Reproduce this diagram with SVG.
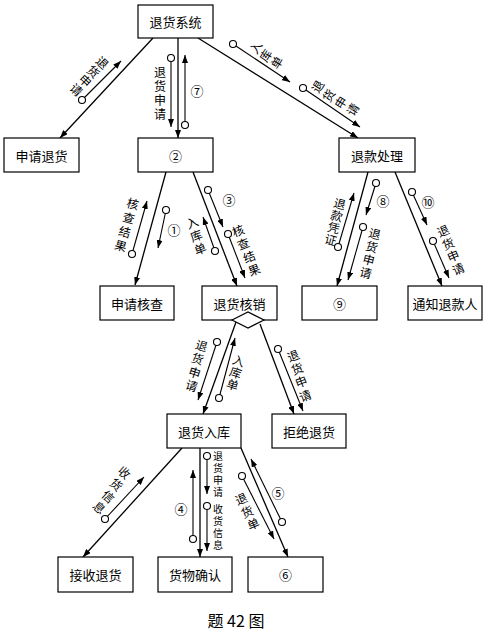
<svg xmlns="http://www.w3.org/2000/svg" width="486" height="633" viewBox="0 0 486 633">
<defs>
<marker id="ah" markerWidth="8" markerHeight="6" refX="8" refY="3" orient="auto" markerUnits="userSpaceOnUse"><path d="M0,0 L8,3 L0,6 z" fill="#000"/></marker>
<style>
.box{fill:#fff;stroke:#000;stroke-width:1.2}
.bt{font-family:"Noto Sans CJK SC","Noto Sans",sans-serif;font-size:13px;text-anchor:middle;dominant-baseline:central;fill:#000}
.lb{font-family:"Noto Sans CJK SC","Noto Sans",sans-serif;font-size:12px;text-anchor:middle;dominant-baseline:central;fill:#000}
.vt{font-family:"Noto Sans CJK SC","Noto Sans",sans-serif;font-size:10px;writing-mode:vertical-rl;letter-spacing:2px;fill:#000}
.vl{font-family:"Noto Sans CJK SC","Noto Sans",sans-serif;font-size:12px;writing-mode:vertical-rl;letter-spacing:2px;fill:#000}
.num{font-family:"Noto Sans CJK SC","DejaVu Sans",sans-serif;font-size:13px;text-anchor:middle;dominant-baseline:central;fill:#000}
.main{stroke:#000;stroke-width:1.3;fill:none;marker-end:url(#ah)}
.flow{stroke:#000;stroke-width:1.1;fill:none;marker-end:url(#ah)}
.dot{fill:#fff;stroke:#000;stroke-width:1.1}
</style>
</defs>
<rect width="486" height="633" fill="#fff"/>

<g id="connectors">
<path class="main" d="M153,38 L60,138"/>
<path class="main" d="M178,38 L178,138"/>
<path class="main" d="M198,38 L358,138"/>
<path class="main" d="M166,172 L135,285"/>
<path class="main" d="M193,172 L237,286"/>
<path class="main" d="M368,172 L337,286"/>
<path class="main" d="M395,172 L442,286"/>
<path class="main" d="M236,322 L203,414"/>
<path class="main" d="M260,324 L294,414"/>
<path class="main" d="M182,448 L83,557"/>
<path class="main" d="M200,448 L200,557"/>
<path class="main" d="M241,448 L288,557"/>

<g id="flows">
<path class="flow" d="M82,100 L121,61"/><circle class="dot" cx="82" cy="100" r="3.5"/>
<path class="flow" d="M171,58 L171,127"/><circle class="dot" cx="171" cy="58" r="3.5"/>
<path class="flow" d="M185,125 L185,55"/><circle class="dot" cx="185" cy="125" r="3.5"/>
<path class="flow" d="M233,44 L290,82"/><circle class="dot" cx="233" cy="44" r="3.5"/>
<path class="flow" d="M303,88 L360,127"/><circle class="dot" cx="303" cy="88" r="3.5"/>
<path class="flow" d="M132,254 L147,201"/><circle class="dot" cx="132" cy="254" r="3.5"/>
<path class="flow" d="M166,210 L158,248"/><circle class="dot" cx="166" cy="210" r="3.5"/>
<path class="flow" d="M215,251 L203,217"/><circle class="dot" cx="215" cy="251" r="3.5"/>
<path class="flow" d="M208,190 L223,227"/><circle class="dot" cx="208" cy="190" r="3.5"/>
<path class="flow" d="M228,234 L245,278"/><circle class="dot" cx="228" cy="234" r="3.5"/>
<path class="flow" d="M338,247 L354,193"/><circle class="dot" cx="338" cy="247" r="3.5"/>
<path class="flow" d="M376,183 L366,215"/><circle class="dot" cx="376" cy="183" r="3.5"/>
<path class="flow" d="M363,227 L348,280"/><circle class="dot" cx="363" cy="227" r="3.5"/>
<path class="flow" d="M412,192 L427,225"/><circle class="dot" cx="412" cy="192" r="3.5"/>
<path class="flow" d="M433,241 L449,278"/><circle class="dot" cx="433" cy="241" r="3.5"/>
<path class="flow" d="M217,342 L198,400"/><circle class="dot" cx="217" cy="342" r="3.5"/>
<path class="flow" d="M219,398 L235,338"/><circle class="dot" cx="219" cy="398" r="3.5"/>
<path class="flow" d="M278,349 L303,411"/><circle class="dot" cx="278" cy="349" r="3.5"/>
<path class="flow" d="M105,519 L144,477"/><circle class="dot" cx="105" cy="519" r="3.5"/>
<path class="flow" d="M193,539 L193,470"/><circle class="dot" cx="193" cy="539" r="3.5"/>
<path class="flow" d="M207,456 L207,494"/><circle class="dot" cx="207" cy="456" r="3.5"/>
<path class="flow" d="M207,506 L207,551"/><circle class="dot" cx="207" cy="506" r="3.5"/>
<path class="flow" d="M242,476 L274,539"/><circle class="dot" cx="242" cy="476" r="3.5"/>
<path class="flow" d="M282,522 L251,459"/><circle class="dot" cx="282" cy="522" r="3.5"/>
</g>

<g id="labels">
<text class="lb" x="103" y="62" transform="rotate(43 103 62)">退</text>
<text class="lb" x="94" y="71" transform="rotate(43 94 71)">货</text>
<text class="lb" x="86" y="80" transform="rotate(43 86 80)">申</text>
<text class="lb" x="77" y="89" transform="rotate(43 77 89)">请</text>

<text class="vl" x="160" y="66">退货申请</text>
<text class="num" x="197" y="90">⑦</text>

<text class="lb" x="255" y="47" transform="rotate(-58 255 47)">入</text>
<text class="lb" x="265" y="55" transform="rotate(-58 265 55)">库</text>
<text class="lb" x="276" y="62" transform="rotate(-58 276 62)">单</text>
<text class="lb" x="317" y="86" transform="rotate(-58 317 86)">退</text>
<text class="lb" x="328" y="95" transform="rotate(-58 328 95)">货</text>
<text class="lb" x="340" y="102" transform="rotate(-58 340 102)">申</text>
<text class="lb" x="352" y="109" transform="rotate(-58 352 109)">请</text>

<text class="lb" x="133" y="203" transform="rotate(15 133 203)">核</text>
<text class="lb" x="129" y="217" transform="rotate(15 129 217)">查</text>
<text class="lb" x="125" y="231" transform="rotate(15 125 231)">结</text>
<text class="lb" x="121" y="245" transform="rotate(15 121 245)">果</text>
<text class="num" x="174" y="229">①</text>

<text class="lb" x="192" y="222" transform="rotate(-21 192 222)">入</text>
<text class="lb" x="196" y="235" transform="rotate(-21 196 235)">库</text>
<text class="lb" x="200" y="248" transform="rotate(-21 200 248)">单</text>
<text class="num" x="229" y="199">③</text>
<text class="lb" x="238" y="230" transform="rotate(-21 238 230)">核</text>
<text class="lb" x="243" y="243" transform="rotate(-21 243 243)">查</text>
<text class="lb" x="249" y="256" transform="rotate(-21 249 256)">结</text>
<text class="lb" x="254" y="269" transform="rotate(-21 254 269)">果</text>

<text class="lb" x="340" y="203" transform="rotate(15 340 203)">退</text>
<text class="lb" x="337" y="215" transform="rotate(15 337 215)">款</text>
<text class="lb" x="334" y="227" transform="rotate(15 334 227)">凭</text>
<text class="lb" x="331" y="239" transform="rotate(15 331 239)">证</text>
<text class="num" x="383" y="200">⑧</text>
<text class="lb" x="375" y="233" transform="rotate(15 375 233)">退</text>
<text class="lb" x="372" y="246" transform="rotate(15 372 246)">货</text>
<text class="lb" x="369" y="259" transform="rotate(15 369 259)">申</text>
<text class="lb" x="366" y="272" transform="rotate(15 366 272)">请</text>

<text class="num" x="428" y="201">⑩</text>
<text class="lb" x="443" y="230" transform="rotate(-23 443 230)">退</text>
<text class="lb" x="448" y="243" transform="rotate(-23 448 243)">货</text>
<text class="lb" x="453" y="255" transform="rotate(-23 453 255)">申</text>
<text class="lb" x="458" y="268" transform="rotate(-23 458 268)">请</text>

<text class="lb" x="202" y="345" transform="rotate(18 202 345)">退</text>
<text class="lb" x="198" y="358" transform="rotate(18 198 358)">货</text>
<text class="lb" x="195" y="372" transform="rotate(18 195 372)">申</text>
<text class="lb" x="192" y="385" transform="rotate(18 192 385)">请</text>
<text class="lb" x="239" y="360" transform="rotate(18 239 360)">入</text>
<text class="lb" x="236" y="372" transform="rotate(18 236 372)">库</text>
<text class="lb" x="233" y="384" transform="rotate(18 233 384)">单</text>

<text class="lb" x="293" y="355" transform="rotate(-21 293 355)">退</text>
<text class="lb" x="297" y="368" transform="rotate(-21 297 368)">货</text>
<text class="lb" x="301" y="381" transform="rotate(-21 301 381)">申</text>
<text class="lb" x="305" y="395" transform="rotate(-21 305 395)">请</text>

<text class="lb" x="125" y="472" transform="rotate(42 125 472)">收</text>
<text class="lb" x="117" y="484" transform="rotate(42 117 484)">货</text>
<text class="lb" x="109" y="496" transform="rotate(42 109 496)">信</text>
<text class="lb" x="100" y="507" transform="rotate(42 100 507)">息</text>

<text class="num" x="181" y="508">④</text>
<text class="vt" x="218" y="451">退货申请</text>
<text class="vt" x="218" y="504">收货信息</text>

<text class="lb" x="241" y="498" transform="rotate(-23 241 498)">退</text>
<text class="lb" x="247" y="511" transform="rotate(-23 247 511)">货</text>
<text class="lb" x="253" y="523" transform="rotate(-23 253 523)">单</text>
<text class="num" x="278" y="492">⑤</text>
</g>
</g>

<g id="n-system"><rect class="box" x="138" y="5" width="75" height="33"/><text class="bt" x="175.5" y="21.5">退货系统</text></g>
<g id="n-apply"><rect class="box" x="4" y="138" width="75" height="34"/><text class="bt" x="41.5" y="155">申请退货</text></g>
<g id="n-2"><rect class="box" x="138" y="138" width="75" height="34"/><text class="num" x="175.5" y="155">②</text></g>
<g id="n-refund"><rect class="box" x="339" y="138" width="76" height="34"/><text class="bt" x="377" y="155">退款处理</text></g>
<g id="n-check"><rect class="box" x="100" y="286" width="74" height="34"/><text class="bt" x="137" y="303">申请核查</text></g>
<g id="n-verify"><rect class="box" x="202" y="286" width="75" height="34"/><text class="bt" x="239.5" y="303">退货核销</text><path d="M232,320 L248,312 L264,320 L248,328 Z" fill="#fff" stroke="#000" stroke-width="1.2"/></g>
<g id="n-9"><rect class="box" x="302" y="286" width="75" height="34"/><text class="num" x="339.5" y="303">⑨</text></g>
<g id="n-notify"><rect class="box" x="408" y="286" width="74" height="34"/><text class="bt" x="445" y="303">通知退款人</text></g>
<g id="n-stock"><rect class="box" x="167" y="414" width="74" height="34"/><text class="bt" x="204" y="431">退货入库</text></g>
<g id="n-reject"><rect class="box" x="272" y="414" width="74" height="34"/><text class="bt" x="309" y="431">拒绝退货</text></g>
<g id="n-receive"><rect class="box" x="58" y="557" width="75" height="35"/><text class="bt" x="95.5" y="574.5">接收退货</text></g>
<g id="n-confirm"><rect class="box" x="158" y="557" width="74" height="35"/><text class="bt" x="195" y="574.5">货物确认</text></g>
<g id="n-6"><rect class="box" x="248" y="557" width="75" height="35"/><text class="num" x="285.5" y="574.5">⑥</text></g>

<text x="236" y="627" font-family="Noto Sans CJK SC, Noto Sans, sans-serif" font-size="16" text-anchor="middle">题 42 图</text>
</svg>
